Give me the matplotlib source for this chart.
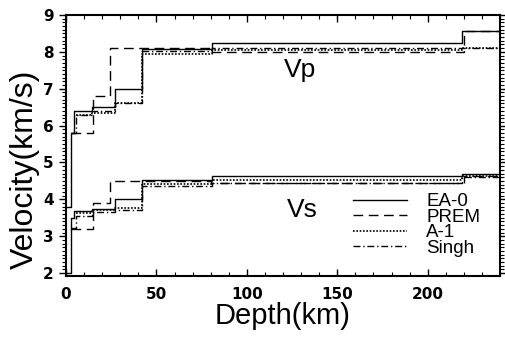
import matplotlib
matplotlib.use("Agg")
import matplotlib.pyplot as plt
from matplotlib.ticker import MultipleLocator

# ---- data (layer tops in km, and layer velocities) ----
ea0_depth = [0, 2.5, 4.4, 14.4, 27, 42, 81, 219, 240]
ea0_vp = [3.8, 5.8, 6.4, 6.5, 7.0, 8.08, 8.25, 8.57]
ea0_vs = [2.0, 3.5, 3.69, 3.74, 4.0, 4.52, 4.62, 4.7]

prem_depth = [3, 15, 24.4, 80, 220, 240]
prem_vp = [5.8, 6.8, 8.11, 7.99, 8.56]
prem_vs = [3.2, 3.9, 4.49, 4.43, 4.64]

a1_depth = [5.5, 14.4, 27, 42, 81, 219, 240]
a1_vp = [6.3, 6.35, 6.6, 7.93, 8.05, 8.1]
a1_vs = [3.62, 3.7, 3.77, 4.42, 4.52, 4.62]

singh_depth = [3, 5.5, 14.4, 27, 42, 81, 219, 240]
singh_vp = [5.8, 6.28, 6.4, 6.62, 8.03, 8.1, 8.1]
singh_vs = [3.22, 3.55, 3.66, 3.72, 4.36, 4.45, 4.6]

labels = ["EA-0", "PREM", "A-1", "Singh"]
x_ticks = [0, 50, 100, 150, 200]
y_ticks = [2, 3, 4, 5, 6, 7, 8, 9]

plt.rcParams['font.family'] = ['Liberation Sans', 'DejaVu Sans']

fig = plt.figure(figsize=(5.05, 3.37), dpi=100)
ax = fig.add_axes([66/505, 1-276/337, (500-66)/505, (276-15)/337])

styles = [
    dict(color='black', lw=1.0, ls='-'),
    dict(color='black', lw=1.0, ls=(0, (7, 4))),
    dict(color='black', lw=1.2, ls=(0, (1, 1))),
    dict(color='black', lw=1.0, ls=(0, (5, 2, 1, 2))),
]
models = [
    (ea0_depth, ea0_vp, ea0_vs),
    (prem_depth, prem_vp, prem_vs),
    (a1_depth, a1_vp, a1_vs),
    (singh_depth, singh_vp, singh_vs),
]
handles = []
for (d, vp, vs), st, lab in zip(models, styles, labels):
    h, = ax.step(d, list(vp) + [vp[-1]], where='post', label=lab, **st)
    ax.step(d, list(vs) + [vs[-1]], where='post', **st)
    handles.append(h)

ax.set_xlim(0, 240)
ax.set_ylim(1.92, 9.0)
ax.set_xticks(x_ticks)
ax.set_yticks(y_ticks)
ax.xaxis.set_minor_locator(MultipleLocator(10))
ax.yaxis.set_minor_locator(MultipleLocator(0.1))

ax.tick_params(axis='x', which='both', direction='in', top=True, bottom=True, pad=8)
ax.tick_params(axis='x', which='major', length=5, width=1)
ax.tick_params(axis='x', which='minor', length=3, width=0.8)
ax.tick_params(axis='y', which='both', direction='out', left=True, right=True, pad=4)
ax.tick_params(axis='y', which='major', length=5, width=1)
ax.tick_params(axis='y', which='minor', length=3, width=0.8)
for lab in ax.get_xticklabels() + ax.get_yticklabels():
    lab.set_fontfamily('DejaVu Sans')
    lab.set_fontweight('bold')
    lab.set_fontsize(11)
for sp in ax.spines.values():
    sp.set_linewidth(1.5)

ax.set_xlabel("Depth(km)", fontsize=21, labelpad=0)
ax.set_ylabel("Velocity(km/s)", fontsize=23, labelpad=2)
ax.yaxis.set_label_coords(-0.06, 0.41)

ax.text(300/505, 1-70/337, "Vp", transform=fig.transFigure, fontsize=19,
        ha='center', va='center')
ax.text(302/505, 1-210/337, "Vs", transform=fig.transFigure, fontsize=19,
        ha='center', va='center')

leg = ax.legend(handles=handles, loc='upper left',
                bbox_to_anchor=(353/505, 1-193/337), bbox_transform=fig.transFigure,
                frameon=False, fontsize=13.5, borderpad=0, borderaxespad=0,
                handlelength=2.9, handletextpad=1.0, labelspacing=-0.08)

fig.savefig("out.png", dpi=100)
